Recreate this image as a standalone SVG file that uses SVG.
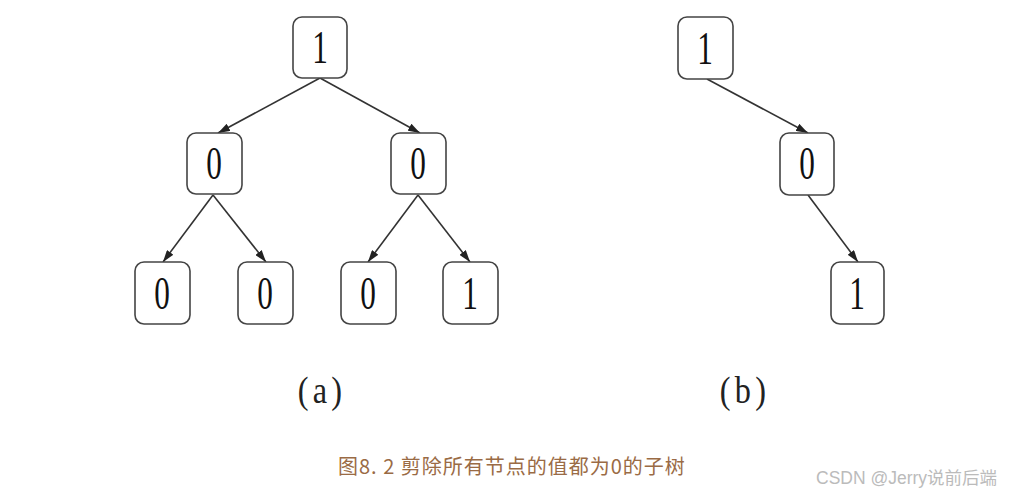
<svg xmlns="http://www.w3.org/2000/svg" width="1010" height="495" viewBox="0 0 1010 495">
<defs>
<marker id="ah" viewBox="0 0 12 8" refX="12" refY="4" markerWidth="12" markerHeight="8" markerUnits="userSpaceOnUse" orient="auto">
<path d="M0,0 L12,4 L0,8 z" fill="#222"/>
</marker>
<style>
.box{fill:#fff;stroke:#444;stroke-width:1.6}
.d{font-family:"Liberation Serif",serif;font-size:46px;fill:#111;text-anchor:middle}
.e{stroke:#333;stroke-width:1.6;fill:none;marker-end:url(#ah)}
.lab{font-family:"Liberation Serif",serif;font-size:38px;fill:#222;text-anchor:middle}
.cap{font-family:"Noto Sans CJK SC",sans-serif;font-size:20px;letter-spacing:1px;fill:#9a6b45}
.wm{font-family:"Liberation Sans","Noto Sans CJK SC",sans-serif;font-size:17.5px;fill:#bbb}
</style>
</defs>
<rect width="1010" height="495" fill="#fff"/>
<g id="connectors">
<line class="e" x1="320" y1="78" x2="218" y2="133"/>
<line class="e" x1="320" y1="78" x2="420" y2="133"/>
<line class="e" x1="213" y1="195" x2="163" y2="262"/>
<line class="e" x1="213" y1="195" x2="266" y2="262"/>
<line class="e" x1="418" y1="195" x2="368" y2="262"/>
<line class="e" x1="418" y1="195" x2="470" y2="262"/>
<line class="e" x1="707" y1="79" x2="808" y2="133"/>
<line class="e" x1="808" y1="195" x2="858" y2="262"/>
</g>
<g id="a_root"><rect class="box" x="293" y="17" width="54" height="61" rx="9"/><text class="d" transform="translate(320,63) scale(0.68,1)">1</text></g>
<g id="a_l"><rect class="box" x="187" y="133" width="55" height="61" rx="9"/><text class="d" transform="translate(214,179) scale(0.68,1)">0</text></g>
<g id="a_r"><rect class="box" x="391" y="133" width="55" height="61" rx="9"/><text class="d" transform="translate(418,179) scale(0.68,1)">0</text></g>
<g id="a_ll"><rect class="box" x="135" y="262" width="55" height="62" rx="9"/><text class="d" transform="translate(162,309) scale(0.68,1)">0</text></g>
<g id="a_lr"><rect class="box" x="238" y="262" width="55" height="62" rx="9"/><text class="d" transform="translate(265,309) scale(0.68,1)">0</text></g>
<g id="a_rl"><rect class="box" x="341" y="262" width="55" height="62" rx="9"/><text class="d" transform="translate(368,309) scale(0.68,1)">0</text></g>
<g id="a_rr"><rect class="box" x="443" y="262" width="55" height="62" rx="9"/><text class="d" transform="translate(470,309) scale(0.68,1)">1</text></g>
<g id="b_root"><rect class="box" x="678" y="17" width="55" height="62" rx="9"/><text class="d" transform="translate(705,64) scale(0.68,1)">1</text></g>
<g id="b_m"><rect class="box" x="780" y="133" width="54" height="62" rx="9"/><text class="d" transform="translate(807,179) scale(0.68,1)">0</text></g>
<g id="b_b"><rect class="box" x="831" y="262" width="53" height="62" rx="9"/><text class="d" transform="translate(857,309) scale(0.68,1)">1</text></g>
<text class="lab" transform="translate(322,403) scale(0.85,1)" letter-spacing="5">(a)</text>
<text class="lab" transform="translate(745,403) scale(0.85,1)" letter-spacing="5">(b)</text>
<text class="cap" x="338" y="474">图8. 2 剪除所有节点的值都为0的子树</text>
<text class="wm" x="816" y="484">CSDN @Jerry说前后端</text>
</svg>
